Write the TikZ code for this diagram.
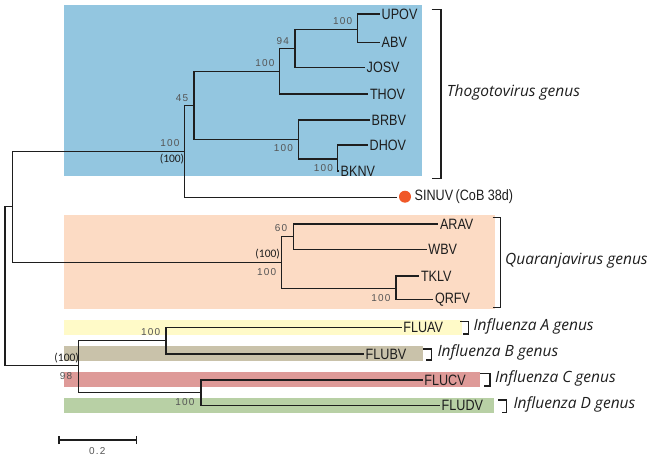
\documentclass[tikz,border=0pt]{standalone}
\usepackage{fontspec}
\setmainfont{Liberation Sans}
\newfontfamily\leaffont[FakeStretch=0.84]{Liberation Sans}
\newfontfamily\genusfont{Open Sans}
\newfontfamily\bsfont[LetterSpace=12]{Liberation Sans}
\newfontfamily\parfont{Carlito}
\definecolor{bandblue}{RGB}{147,198,224}
\definecolor{bandpeach}{RGB}{252,219,196}
\definecolor{bandyellow}{RGB}{255,250,200}
\definecolor{bandtan}{RGB}{201,194,170}
\definecolor{bandred}{RGB}{222,154,152}
\definecolor{bandgreen}{RGB}{184,208,165}
\definecolor{dotred}{RGB}{240,88,40}
\definecolor{bsgrey}{RGB}{85,85,85}
\definecolor{inkdark}{RGB}{30,30,30}
\begin{document}
\begin{tikzpicture}[x=1pt,y=-1pt,
  branch/.style={line width=1.5pt,draw=inkdark},
  bracketline/.style={line width=1.1pt,draw=inkdark},
  leaf/.style={anchor=west,inner sep=1.5pt,font=\leaffont\fontsize{15}{15}\selectfont,text=inkdark},
  genus/.style={anchor=west,inner sep=0pt,font=\genusfont\itshape\fontsize{15.5}{15.5}\selectfont,text=inkdark},
  bs/.style={inner sep=0pt,font=\bsfont\fontsize{10}{10}\selectfont,text=bsgrey},
  bsp/.style={inner sep=0pt,font=\parfont\fontsize{11.5}{11.5}\selectfont,text=inkdark}]
\useasboundingbox (0,0) rectangle (654,460);
% bands
\fill[bandblue] (64,5.5) rectangle (422,176);
\fill[bandpeach] (64,215) rectangle (495,309);
\fill[bandyellow] (64,320) rectangle (462,335);
\fill[bandtan] (64,345.7) rectangle (422.7,360.7);
\fill[bandred] (64,372.3) rectangle (480,386.7);
\fill[bandgreen] (64,398.3) rectangle (494,413.3);
% internal nodes
\coordinate (root) at (5,286);
\coordinate (n1) at (12.3,206.7);
\coordinate (t0) at (184.3,151.7);
\coordinate (t1) at (194,105.3);
\coordinate (na) at (279.3,71.3);
\coordinate (nc) at (295,48.7);
\coordinate (nd) at (357.3,29.3);
\coordinate (nb) at (298.3,139.3);
\coordinate (ne) at (337.3,159);
\coordinate (q) at (281.7,262.3);
\coordinate (nf) at (293.3,236.7);
\coordinate (ng) at (396,288.3);
\coordinate (flu) at (78.3,365.7);
\coordinate (nh) at (166,340.7);
\coordinate (ni) at (201,392.7);
% leaves
\node[leaf] (upov) at (380,14) {UPOV};
\node[leaf] (abv) at (380,42.3) {ABV};
\node[leaf] (josv) at (365,67.5) {JOSV};
\node[leaf] (thov) at (368.3,94) {THOV};
\node[leaf] (brbv) at (370,120) {BRBV};
\node[leaf] (dhov) at (368,145) {DHOV};
\node[leaf] (bknv) at (339,171) {BKNV};
\coordinate (sintip) at (396.7,197.3);
\node[circle,fill=dotred,minimum size=12pt,inner sep=0pt] (dot) at (405,196.7) {};
\node[leaf] (sinuv) at (413,197) {SINUV\,(CoB 38d)};
\node[leaf] (arav) at (438.3,224) {ARAV};
\node[leaf] (wbv) at (426.7,249.3) {WBV};
\node[leaf] (tklv) at (419.3,276) {TKLV};
\node[leaf] (qrfv) at (433.3,299.3) {QRFV};
\node[leaf] (fluav) at (401.7,327.7) {FLUAV};
\node[leaf] (flubv) at (364,354) {FLUBV};
\node[leaf] (flucv) at (422.7,380) {FLUCV};
\node[leaf] (fludv) at (440,405.7) {FLUDV};
% branches
\draw[branch] (root) |- (n1);
\draw[branch] (root) |- (flu);
\draw[branch] (n1) |- (t0);
\draw[branch] (n1) |- (q);
\draw[branch] (t0) |- (t1);
\draw[branch] (t0) |- (sintip);
\draw[branch] (t1) |- (na);
\draw[branch] (t1) |- (nb);
\draw[branch] (na) |- (nc);
\draw[branch] (na) |- (thov.west);
\draw[branch] (nc) |- (nd);
\draw[branch] (nc) |- (josv.west);
\draw[branch] (nd) |- (upov.west);
\draw[branch] (nd) |- (abv.west);
\draw[branch] (nb) |- (brbv.west);
\draw[branch] (nb) |- (ne);
\draw[branch] (ne) |- (dhov.west);
\draw[branch] (ne) |- (bknv.west);
\draw[branch] (q) |- (nf);
\draw[branch] (q) |- (ng);
\draw[branch] (nf) |- (arav.west);
\draw[branch] (nf) |- (wbv.west);
\draw[branch] (ng) |- (tklv.west);
\draw[branch] (ng) |- (qrfv.west);
\draw[branch] (flu) |- (nh);
\draw[branch] (flu) |- (ni);
\draw[branch] (nh) |- (fluav.west);
\draw[branch] (nh) |- (flubv.west);
\draw[branch] (ni) |- (flucv.west);
\draw[branch] (ni) |- (fludv.west);
% support values
\node[bs] (b45) at (182,97.7) {45};
\node[bs] (b100a) at (170,143) {100};
\node[bsp] (p100a) at (172,159) {(100)};
\node[bs] (b100b) at (265,63.3) {100};
\node[bs] (b94) at (282.7,40.7) {94};
\node[bs] (b100c) at (342.7,21) {100};
\node[bs] (b100d) at (283.3,148.3) {100};
\node[bs] (b100e) at (323.3,168.3) {100};
\node[bs] (b60) at (281,228.3) {60};
\node[bsp] (p100b) at (267.7,254.3) {(100)};
\node[bs] (b100f) at (266.7,271.7) {100};
\node[bs] (b100g) at (381,297.7) {100};
\node[bs] (b100h) at (150.7,332.3) {100};
\node[bsp] (p100c) at (66.7,358.3) {(100)};
\node[bs] (b98) at (66,375.7) {98};
\node[bs] (b100i) at (185,401.7) {100};
% brackets
\draw[bracketline] (431.7,9.3) -- (441,9.3) -- (441,178.3) -- (431.7,178.3);
\draw[bracketline] (492.7,217.3) -- (500.3,217.3) -- (500.3,307.3) -- (492.7,307.3);
\draw[bracketline] (460,321.7) -- (468.3,321.7) -- (468.3,334) -- (463,334);
\draw[bracketline] (423,349) -- (431.7,349) -- (431.7,360) -- (426,360);
\draw[bracketline] (480,373.3) -- (490,373.3) -- (490,386) -- (484,386);
\draw[bracketline] (498.3,400) -- (506.7,400) -- (506.7,412.3) -- (502,412.3);
% genus labels
\node[genus] (gthogo) at (446.7,92.7) {Thogotovirus genus};
\node[genus] (gquar) at (505,261) {Quaranjavirus genus};
\node[genus] (gflua) at (473.3,326) {Influenza A genus};
\node[genus] (gflub) at (437.3,352.3) {Influenza B genus};
\node[genus] (gfluc) at (495,378.3) {Influenza C genus};
\node[genus] (gflud) at (513.3,404.3) {Influenza D genus};
% scale bar
\coordinate (sbl) at (59,440);
\coordinate (sbr) at (136.7,440);
\draw[branch] (sbl) -- (sbr);
\draw[branch] ([yshift=-4pt]sbl) -- ([yshift=4pt]sbl);
\draw[branch] ([yshift=-4pt]sbr) -- ([yshift=4pt]sbr);
\node[bs] (scalelbl) at (97.3,450.7) {0.2};
\end{tikzpicture}
\end{document}
